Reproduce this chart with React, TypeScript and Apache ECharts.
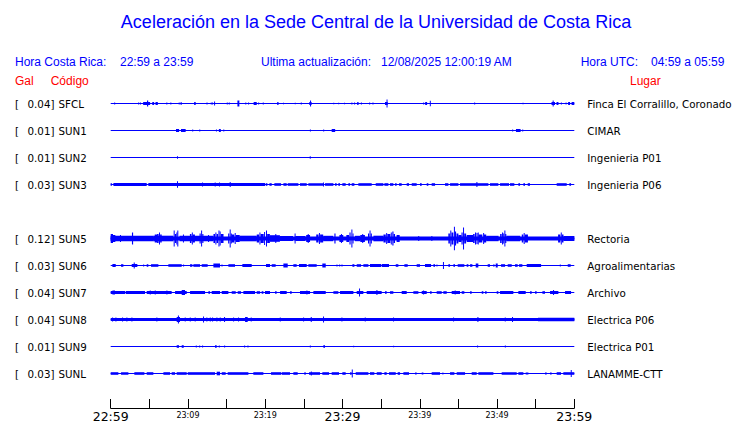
import React, { useEffect, useRef } from "react";
import * as echarts from "echarts";

// ---------- DATA ----------
const stationCodes = ["SFCL", "SUN1", "SUN2", "SUN3", "SUN5", "SUN6", "SUN7", "SUN8", "SUN9", "SUNL"];
const stationPlaces = [
  "Finca El Corralillo, Coronado", "CIMAR", "Ingenieria P01", "Ingenieria P06", "Rectoria",
  "Agroalimentarias", "Archivo", "Electrica P06", "Electrica P01", "LANAMME-CTT",
];
const stationPeaks = [0.04, 0.01, 0.01, 0.03, 0.12, 0.03, 0.04, 0.04, 0.01, 0.03];
const tickLabels = ["22:59", "23:09", "23:19", "23:29", "23:39", "23:49", "23:59"];
const majorTickLabels = ["22:59", "23:29", "23:59"];
const titleText = "Aceleración en la Sede Central de la Universidad de Costa Rica";
const localRange = "22:59 a 23:59";
const utcRange = "04:59 a 05:59";
const lastUpdate = "12/08/2025 12:00:19 AM";

// Envelope segments: [start minute, end minute, half amplitude (Gal)]
const sfcl = [
  [0.45, 0.55, 0.01], [3.55, 3.65, 0.01], [3.78, 3.88, 0.01], [4.2, 5.1, 0.015], [4.7, 4.85, 0.03],
  [5.38, 5.62, 0.015], [5.8, 6.1, 0.015], [7.2, 7.3, 0.01], [7.72, 7.82, 0.01], [8.8, 8.9, 0.01],
  [9.05, 9.15, 0.015], [10.8, 11.0, 0.015], [12.4, 12.5, 0.01], [12.95, 13.05, 0.01], [13.12, 13.22, 0.01],
  [13.38, 13.48, 0.02], [15.02, 15.12, 0.01], [15.28, 15.38, 0.01], [16.4, 16.65, 0.03], [17.42, 17.52, 0.01],
  [17.78, 17.88, 0.01], [18.5, 18.9, 0.015], [19.08, 19.16, 0.01], [19.68, 19.76, 0.01], [21.55, 21.72, 0.015],
  [22.3, 22.4, 0.008], [23.82, 23.9, 0.008], [24.6, 24.68, 0.01], [25.7, 26.0, 0.015], [25.8, 25.9, 0.03],
  [28.8, 28.86, 0.008], [29.44, 29.5, 0.008], [30.2, 30.28, 0.008], [31.15, 31.23, 0.01], [31.5, 31.58, 0.01],
  [31.9, 32.08, 0.015], [32.38, 32.44, 0.01], [33.45, 33.52, 0.01], [33.88, 33.95, 0.01], [35.5, 35.85, 0.015],
  [35.7, 35.8, 0.04], [40.44, 40.5, 0.01], [40.7, 40.95, 0.015], [41.3, 41.37, 0.027], [47.04, 47.1, 0.01],
  [53.3, 53.36, 0.008], [57.05, 57.5, 0.015], [57.2, 57.3, 0.03], [57.7, 57.95, 0.015], [58.26, 58.32, 0.01],
  [58.87, 58.93, 0.01], [59.2, 59.45, 0.015], [59.65, 60, 0.015],
];
const sun1 = [
  [8.45, 8.85, 0.015], [9.1, 9.7, 0.015], [10.55, 10.62, 0.01], [11.46, 11.52, 0.01], [13.62, 13.68, 0.01],
  [14.0, 14.25, 0.015], [14.57, 14.63, 0.01], [25.78, 25.84, 0.01], [27.5, 27.56, 0.01], [28.6, 29.05, 0.015],
  [51.96, 52.02, 0.01], [52.45, 53.05, 0.015], [53.26, 53.32, 0.01],
];
const sun2 = [[8.58, 8.66, 0.012], [25.76, 25.84, 0.012]];
const sun3 = [
  [0, 0.13, 0.015], [0.35, 4.66, 0.015], [4.87, 19.97, 0.015], [20.06, 20.28, 0.013], [20.54, 20.84, 0.013],
  [21.18, 22.05, 0.013], [22.35, 22.78, 0.013], [22.91, 24.29, 0.013], [24.5, 25.37, 0.013], [25.58, 27.52, 0.013],
  [27.74, 28.82, 0.013], [29.03, 29.25, 0.013], [29.46, 29.68, 0.013], [29.98, 30.41, 0.013], [30.76, 30.98, 0.013],
  [31.19, 31.54, 0.013], [32.05, 33.78, 0.013], [34.3, 35.29, 0.013], [35.42, 35.94, 0.013], [36.15, 36.58, 0.013],
  [36.8, 37.01, 0.013], [37.32, 37.66, 0.013], [38.31, 38.61, 0.013], [38.96, 39.6, 0.013], [40.03, 40.25, 0.013],
  [40.9, 41.11, 0.013], [41.54, 41.98, 0.013], [43.27, 43.7, 0.013], [43.92, 45.0, 0.013], [45.21, 48.88, 0.013],
  [49.09, 50.17, 0.013], [50.39, 51.55, 0.013], [51.68, 52.24, 0.013], [52.76, 52.98, 0.013], [53.41, 53.62, 0.013],
  [53.97, 54.27, 0.013], [57.72, 59.02, 0.013], [59.36, 59.58, 0.013],
  [8.58, 8.68, 0.033], [11.82, 11.9, 0.02], [13.46, 13.54, 0.02], [14.02, 14.1, 0.02], [15.4, 15.48, 0.025],
  [27.48, 27.56, 0.02], [47.33, 47.41, 0.025],
];
const sun5 = [
  [0, 60, 0.02], [0, 5.5, 0.027], [5.5, 8.1, 0.028], [8.9, 13.3, 0.027], [16.7, 18.9, 0.028],
  [21.9, 23.6, 0.025], [23.9, 25.2, 0.025], [27.5, 28.8, 0.027], [31.6, 32.3, 0.027], [34.0, 35.3, 0.028],
  [48.6, 50.2, 0.027], [51.2, 53.0, 0.027], [58.6, 60, 0.025],
  [0, 0.3, 0.045], [0.3, 0.6, 0.035], [1.2, 1.3, 0.035], [2.75, 2.9, 0.06],
  [5.7, 6.0, 0.04], [6.0, 6.2, 0.045], [6.25, 6.35, 0.06], [6.4, 6.6, 0.04],
  [8.15, 8.25, 0.08], [8.3, 8.5, 0.045], [8.5, 8.6, 0.06], [8.62, 8.72, 0.08], [9.35, 9.45, 0.04],
  [10.25, 10.45, 0.045], [10.5, 10.6, 0.06], [10.65, 10.9, 0.04],
  [11.5, 11.65, 0.05], [11.7, 11.8, 0.08], [11.85, 12.0, 0.045], [12.6, 12.7, 0.035],
  [13.3, 13.5, 0.045], [13.55, 13.65, 0.06], [13.7, 13.9, 0.045], [13.95, 14.05, 0.08], [14.1, 14.2, 0.07],
  [14.25, 14.6, 0.045],
  [15.2, 15.35, 0.05], [15.4, 15.5, 0.09], [15.55, 15.65, 0.05], [15.65, 16.0, 0.04], [16.05, 16.15, 0.055],
  [16.2, 16.7, 0.035],
  [18.9, 19.2, 0.04], [19.25, 19.35, 0.06], [19.4, 19.8, 0.045], [19.85, 19.95, 0.065], [20.1, 20.2, 0.08],
  [20.25, 20.6, 0.045], [20.6, 21.9, 0.033], [21.3, 21.4, 0.045],
  [23.8, 23.9, 0.05], [25.3, 25.8, 0.035], [25.5, 25.6, 0.045],
  [26.6, 26.9, 0.04], [26.95, 27.05, 0.055], [27.1, 27.5, 0.04], [28.95, 29.1, 0.05],
  [29.6, 30.1, 0.035], [29.8, 29.9, 0.045],
  [30.5, 30.85, 0.035], [30.9, 31.05, 0.06], [31.15, 31.25, 0.09], [31.3, 31.4, 0.05],
  [32.3, 32.9, 0.035], [32.55, 32.65, 0.045],
  [33.3, 33.45, 0.05], [33.5, 33.6, 0.08], [33.65, 33.8, 0.05],
  [35.3, 35.6, 0.04], [35.65, 35.75, 0.055], [35.8, 36.2, 0.045], [36.25, 36.35, 0.06], [36.45, 36.6, 0.07],
  [36.6, 36.8, 0.045], [37.0, 37.4, 0.035], [39.8, 39.9, 0.025], [41.5, 41.6, 0.025],
  [43.7, 43.9, 0.05], [43.95, 44.05, 0.08], [44.1, 44.35, 0.06], [44.42, 44.52, 0.117], [44.55, 44.7, 0.07],
  [44.75, 45.0, 0.05], [45.0, 45.4, 0.035],
  [45.4, 45.55, 0.06], [45.6, 45.7, 0.11], [45.75, 46.0, 0.05], [46.07, 46.9, 0.035],
  [46.9, 47.1, 0.045], [47.15, 47.3, 0.06], [47.35, 47.45, 0.055], [47.5, 47.6, 0.06], [47.6, 48.1, 0.04],
  [48.2, 48.3, 0.055], [48.3, 48.6, 0.04],
  [50.4, 50.6, 0.045], [50.65, 50.75, 0.06], [50.8, 50.9, 0.05], [50.95, 51.05, 0.08], [51.05, 51.2, 0.045],
  [53.2, 53.4, 0.04], [53.45, 53.55, 0.055], [53.6, 54.0, 0.04],
  [57.9, 58.2, 0.04], [58.25, 58.35, 0.06], [58.4, 58.6, 0.04],
];
const sun6 = [
  [0.22, 0.65, 0.015], [1.34, 1.64, 0.013], [2.72, 3.45, 0.015], [2.98, 3.1, 0.03], [4.2, 4.27, 0.01],
  [4.66, 4.87, 0.013], [5.22, 6.17, 0.013], [7.46, 9.19, 0.013], [9.37, 9.43, 0.01], [10.27, 10.57, 0.013],
  [10.7, 11.56, 0.013], [11.78, 12.55, 0.013], [13.29, 14.15, 0.02], [14.34, 14.4, 0.01], [15.23, 16.09, 0.013],
  [17.04, 18.25, 0.015], [20.1, 20.62, 0.015], [20.84, 21.35, 0.013], [22.35, 22.91, 0.02], [23.64, 24.07, 0.013],
  [24.37, 25.37, 0.015], [25.58, 26.66, 0.013], [27.39, 27.83, 0.02], [29.22, 29.28, 0.01], [29.57, 29.63, 0.01],
  [29.87, 29.93, 0.01], [31.28, 31.54, 0.013], [31.84, 32.4, 0.013], [32.7, 33.35, 0.013], [33.56, 34.99, 0.015],
  [35.07, 36.02, 0.015], [36.89, 37.23, 0.013], [38.01, 38.44, 0.013], [39.6, 40.03, 0.013], [40.68, 41.46, 0.015],
  [41.76, 41.98, 0.013], [42.16, 42.22, 0.01], [43.0, 43.1, 0.035], [43.7, 43.92, 0.013], [44.35, 44.56, 0.013],
  [44.91, 45.77, 0.013], [46.07, 46.29, 0.013], [46.51, 46.81, 0.013], [47.24, 47.58, 0.02], [48.79, 49.09, 0.013],
  [49.53, 49.66, 0.013], [49.83, 50.09, 0.02], [50.52, 51.04, 0.013], [51.38, 51.9, 0.013], [52.33, 52.67, 0.013],
  [52.85, 53.28, 0.013], [53.84, 55.7, 0.015], [58.12, 58.18, 0.01], [59.15, 59.53, 0.013],
];
const sun7 = [
  [0, 1.86, 0.015], [1.94, 4.44, 0.015], [4.66, 7.89, 0.015], [8.33, 9.84, 0.015], [10.27, 12.21, 0.015],
  [12.64, 12.86, 0.013], [13.07, 14.15, 0.015], [14.37, 15.23, 0.015], [15.66, 16.18, 0.013], [16.44, 16.87, 0.013],
  [17.17, 18.68, 0.015], [18.9, 19.33, 0.013], [19.54, 19.76, 0.013], [19.97, 20.62, 0.015], [21.27, 21.48, 0.013],
  [21.92, 22.78, 0.015], [23.21, 23.43, 0.013], [24.5, 25.8, 0.015], [26.23, 27.83, 0.015], [28.82, 29.46, 0.013],
  [29.68, 31.41, 0.015], [31.84, 32.7, 0.015], [33.13, 35.07, 0.015], [35.5, 35.72, 0.013], [36.15, 36.58, 0.013],
  [37.66, 38.31, 0.015], [39.17, 39.82, 0.013], [40.25, 40.9, 0.015], [41.33, 41.54, 0.013], [42.19, 42.84, 0.013],
  [43.05, 43.49, 0.013], [44.13, 45.21, 0.015], [45.43, 45.77, 0.013], [46.51, 46.72, 0.013], [48.02, 48.23, 0.013],
  [48.45, 48.66, 0.013], [49.96, 50.17, 0.013], [50.39, 52.11, 0.015], [52.76, 53.71, 0.015], [54.27, 54.49, 0.013],
  [54.92, 55.13, 0.013], [55.87, 56.21, 0.013], [56.86, 57.94, 0.015], [58.8, 59.58, 0.015],
  [0.22, 0.56, 0.02], [5.05, 5.13, 0.02], [5.7, 5.78, 0.02], [7.21, 7.29, 0.02], [9.19, 9.62, 0.025],
  [25.33, 25.41, 0.02], [32.14, 32.22, 0.04], [34.39, 34.47, 0.025], [40.43, 40.51, 0.02], [44.52, 44.6, 0.02],
  [57.25, 57.33, 0.025],
];
const sun8 = [
  [0, 60, 0.015], [55.3, 60, 0.018], [0.18, 0.26, 0.02], [0.61, 0.69, 0.02], [1.47, 1.55, 0.02], [2.03, 2.11, 0.02],
  [2.68, 2.76, 0.02], [5.91, 5.99, 0.02], [8.54, 8.97, 0.025], [8.7, 8.8, 0.04], [9.58, 9.66, 0.02],
  [10.23, 10.31, 0.02], [10.87, 10.95, 0.02], [11.95, 12.03, 0.03], [12.38, 12.46, 0.02], [12.82, 12.9, 0.02],
  [13.12, 13.2, 0.02], [13.68, 13.76, 0.02], [14.11, 14.19, 0.02], [14.67, 14.75, 0.025], [15.84, 15.92, 0.02],
  [16.48, 16.56, 0.02], [17.39, 17.73, 0.025], [18.12, 18.2, 0.02], [21.88, 21.96, 0.02], [24.9, 24.98, 0.02],
  [25.89, 25.97, 0.025], [27.48, 27.56, 0.03], [29.86, 29.94, 0.02], [32.88, 32.96, 0.02], [36.54, 36.62, 0.02],
  [44.31, 44.39, 0.02], [47.46, 47.54, 0.025], [51.0, 51.08, 0.02], [51.94, 52.02, 0.025],
];
const sun9 = [
  [8.54, 8.84, 0.013], [9.19, 9.45, 0.013], [11.01, 11.07, 0.01], [11.45, 11.51, 0.01], [11.83, 11.89, 0.01],
  [13.5, 13.72, 0.013], [13.99, 14.05, 0.01], [14.68, 14.74, 0.01], [17.27, 17.33, 0.01], [17.7, 17.76, 0.01],
  [25.77, 25.83, 0.01], [27.52, 27.74, 0.013], [31.38, 31.44, 0.008], [36.55, 36.61, 0.008], [47.42, 47.48, 0.01],
  [51.01, 51.07, 0.01],
];
const sunl = [
  [0, 0.99, 0.013], [1.34, 2.29, 0.013], [3.06, 4.36, 0.013], [4.66, 5.52, 0.013], [6.82, 7.68, 0.013],
  [7.89, 8.33, 0.013], [8.54, 9.84, 0.013], [9.97, 13.5, 0.013], [13.72, 14.15, 0.018], [14.37, 14.88, 0.013],
  [15.14, 17.82, 0.013], [18.46, 19.76, 0.013], [20.75, 22.05, 0.013], [22.13, 23.21, 0.013], [23.64, 24.2, 0.013],
  [25.06, 25.24, 0.013], [25.67, 27.09, 0.013], [25.9, 26.0, 0.02], [27.39, 28.26, 0.013], [28.6, 29.55, 0.013],
  [29.98, 30.41, 0.013], [30.98, 31.19, 0.013], [31.2, 31.28, 0.04], [31.71, 33.35, 0.013], [33.56, 34.12, 0.013],
  [34.43, 35.07, 0.013], [35.42, 35.72, 0.013], [36.02, 36.89, 0.013], [37.14, 37.45, 0.013], [37.88, 38.61, 0.013],
  [39.39, 39.6, 0.01], [40.25, 40.47, 0.01], [41.54, 42.62, 0.013], [42.93, 43.05, 0.01], [43.92, 44.48, 0.013],
  [44.78, 45.86, 0.013], [46.72, 47.37, 0.013], [47.58, 49.53, 0.013], [50.6, 52.55, 0.013], [52.76, 53.41, 0.013],
  [53.71, 54.06, 0.01], [56.21, 56.43, 0.01], [56.86, 57.07, 0.01], [57.72, 58.28, 0.013], [58.58, 60, 0.013],
  [59.54, 59.62, 0.035],
];
const stationSegments = [sfcl, sun1, sun2, sun3, sun5, sun6, sun7, sun8, sun9, sunl];

// ---------- LAYOUT ----------
const W = 740;
const H = 423;
const PLOT_LEFT = 110.7;
const PLOT_W = 463.6;
const ROW0 = 103.5;
const ROW_STEP = 27;
const BLUE = "#0000ff";
const RED = "#ff0000";
const HEAD_FONT = '"Liberation Sans", Arial, sans-serif';
const BODY_FONT = '"DejaVu Sans", sans-serif';

function rowCenter(i: number) {
  const slot = i < 4 ? i : i + 1; // SUN4 slot left empty
  return ROW0 + slot * ROW_STEP;
}

export default function App() {
  const ref = useRef<HTMLDivElement>(null);

  useEffect(() => {
    if (!ref.current) return;
    const chart = echarts.init(ref.current, null, { renderer: "svg" });

    const grids: any[] = [];
    const xAxes: any[] = [];
    const yAxes: any[] = [];
    const series: any[] = [];
    const graphics: any[] = [];

    stationCodes.forEach((code, i) => {
      const c = rowCenter(i);
      grids.push({ left: PLOT_LEFT, width: PLOT_W, top: c - 13.5, height: 27 });
      xAxes.push({ gridIndex: i, type: "value", min: 0, max: 60, show: false });
      yAxes.push({ gridIndex: i, type: "value", min: -0.135, max: 0.135, show: false });
      series.push({
        type: "line",
        xAxisIndex: i,
        yAxisIndex: i,
        data: [[0, 0], [60, 0]],
        symbol: "none",
        lineStyle: { color: BLUE, width: 1 },
        silent: true,
      });
      series.push({
        type: "custom",
        xAxisIndex: i,
        yAxisIndex: i,
        data: stationSegments[i],
        encode: { x: [0, 1], y: 2 },
        silent: true,
        renderItem: (_p: any, api: any) => {
          const s = api.value(0);
          const e = api.value(1);
          const a = api.value(2);
          const p0 = api.coord([s, a]);
          const p1 = api.coord([e, -a]);
          return {
            type: "rect",
            shape: {
              x: p0[0],
              y: p0[1],
              width: Math.max(p1[0] - p0[0], 1),
              height: p1[1] - p0[1],
            },
            style: { fill: BLUE },
          };
        },
      });
      const font = `10.3px ${BODY_FONT}`;
      graphics.push(
        { type: "text", x: 15, y: c, style: { text: "[", font, fill: "#000", verticalAlign: "middle" } },
        {
          type: "text", x: 54.5, y: c,
          style: { text: `${stationPeaks[i].toFixed(2)}]`, font, fill: "#000", align: "right", verticalAlign: "middle" },
        },
        { type: "text", x: 58.5, y: c, style: { text: code, font, fill: "#000", verticalAlign: "middle" } },
        { type: "text", x: 587.3, y: c, style: { text: stationPlaces[i], font, fill: "#000", verticalAlign: "middle" } }
      );
    });

    // time axis grid
    const ai = stationCodes.length;
    grids.push({ left: PLOT_LEFT, width: PLOT_W, top: 380, height: 29.3 });
    xAxes.push({
      gridIndex: ai,
      type: "value",
      min: 0,
      max: 60,
      interval: 5,
      position: "bottom",
      splitLine: { show: false },
      axisLine: { show: true, lineStyle: { color: "#000", width: 1 } },
      axisTick: { show: true, inside: true, length: 9, lineStyle: { color: "#000", width: 1 } },
      axisLabel: {
        show: true,
        margin: 2,
        showMinLabel: true,
        showMaxLabel: true,
        formatter: (v: number) => {
          if (Math.round(v) % 10 !== 0) return "";
          const lab = tickLabels[Math.round(v / 10)];
          const big = majorTickLabels.includes(lab);
          return `{${big ? "big" : "small"}|${lab}}`;
        },
        rich: {
          big: { fontSize: 12.5, fontFamily: BODY_FONT, color: "#000" },
          small: { fontSize: 8, fontFamily: BODY_FONT, color: "#000", padding: [1, 0, 0, 0] },
        },
      },
    });
    yAxes.push({ gridIndex: ai, type: "value", min: 0, max: 1, show: false });
    series.push({
      type: "line",
      xAxisIndex: ai,
      yAxisIndex: ai,
      data: [],
      silent: true,
    });

    const head = `12px ${HEAD_FONT}`;
    graphics.push(
      {
        type: "text", x: 376, y: 22,
        style: { text: titleText, font: `18px ${HEAD_FONT}`, fill: BLUE, align: "center", verticalAlign: "middle" },
      },
      { type: "text", x: 15, y: 61.5, style: { text: "Hora Costa Rica:", font: head, fill: BLUE, verticalAlign: "middle" } },
      { type: "text", x: 120, y: 61.5, style: { text: localRange, font: head, fill: BLUE, verticalAlign: "middle" } },
      { type: "text", x: 261, y: 61.5, style: { text: "Ultima actualización:", font: head, fill: BLUE, verticalAlign: "middle" } },
      { type: "text", x: 381, y: 61.5, style: { text: lastUpdate, font: head, fill: BLUE, verticalAlign: "middle" } },
      { type: "text", x: 580.7, y: 61.5, style: { text: "Hora UTC:", font: head, fill: BLUE, verticalAlign: "middle" } },
      { type: "text", x: 651, y: 61.5, style: { text: utcRange, font: head, fill: BLUE, verticalAlign: "middle" } },
      { type: "text", x: 15, y: 80.5, style: { text: "Gal", font: head, fill: RED, verticalAlign: "middle" } },
      { type: "text", x: 50.7, y: 80.5, style: { text: "Código", font: head, fill: RED, verticalAlign: "middle" } },
      { type: "text", x: 630, y: 80.5, style: { text: "Lugar", font: head, fill: RED, verticalAlign: "middle" } }
    );

    chart.setOption({
      animation: false,
      backgroundColor: "#fff",
      grid: grids,
      xAxis: xAxes,
      yAxis: yAxes,
      series,
      graphic: { elements: graphics },
    });

    return () => chart.dispose();
  }, []);

  return (
    <div
      ref={ref}
      style={{ position: "absolute", left: 0, top: 0, width: W, height: H, background: "#fff" }}
    />
  );
}
